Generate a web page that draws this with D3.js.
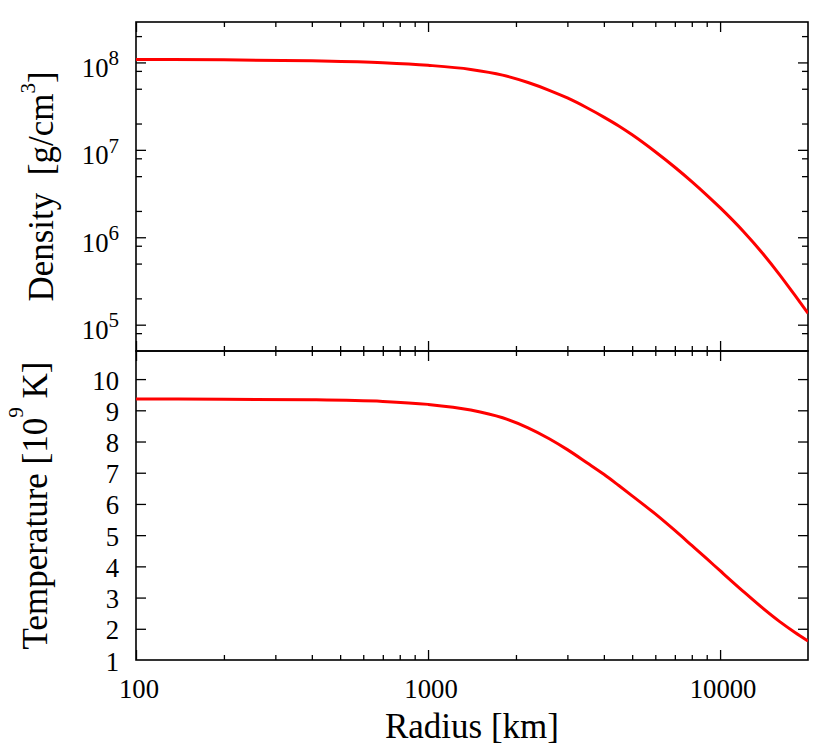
<!DOCTYPE html>
<html>
<head>
<meta charset="utf-8">
<script src="https://cdn.jsdelivr.net/npm/d3@7"></script>
<style>
  body { margin: 0; background: #fff; }
  svg text { font-family: "Liberation Serif", "Times New Roman", serif; fill: #000; }
</style>
</head>
<body>
<svg id="chart"></svg>
<script>
// values
const radius = [100, 200, 400, 700, 1000, 1400, 1800, 2200, 2600, 3000, 3500, 4000, 4500,
                5000, 6000, 7000, 8000, 9000, 10000, 12000, 14000, 16000, 18000, 20000]
const density = [1.081e8, 1.072e8, 1.042e8, 9.91e7, 9.27e7, 8.32e7, 7.16e7, 5.89e7, 4.8e7, 3.92e7,
                 3.03e7, 2.37e7, 1.875e7, 1.486e7, 9.51e6, 6.32e6, 4.33e6, 3.04e6, 2.18e6, 1.172e6,
                 6.52e5, 3.72e5, 2.19e5, 1.35e5]
const temperature = [9.36, 9.356, 9.338, 9.285, 9.19, 9.01, 8.76, 8.44, 8.09, 7.74, 7.32, 6.95,
                     6.59, 6.26, 5.68, 5.15, 4.67, 4.245, 3.86, 3.2, 2.66, 2.23, 1.89, 1.61]

const xTicks = [100, 1000, 10000]
const densityTicks = [1e5, 1e6, 1e7, 1e8]
const tempTicks = [1, 2, 3, 4, 5, 6, 7, 8, 9, 10]

const width = 830, height = 756
const left = 136, right = 808
const top1 = 22, mid = 351, bottom2 = 660
const serif = '"Liberation Serif", "Times New Roman", serif'

const svg = d3.select("#chart").attr("width", width).attr("height", height)

const x = d3.scaleLog().domain([100, 20000]).range([left, right])
const yDen = d3.scaleLog().domain([5e4, 2.9e8]).range([mid, top1])
const yTemp = d3.scaleLinear().domain([1, 10.9]).range([bottom2, mid])

// minor tick positions
var xMinor = []
for (var e = 100; e < 20000; e *= 10) {
    for (var m = 2; m <= 9; m++) if (m * e < 20000) xMinor.push(m * e)
}
var denMinor = []
for (var e = 1e4; e <= 1e8; e *= 10) {
    [2, 5, 8].forEach(m => { if (m * e > 5e4 && m * e < 2.9e8) denMinor.push(m * e) })
}

function ticks(axis, values, size, tx, ty) {
    const g = svg.append("g")
        .attr("transform", `translate(${tx},${ty})`)
        .call(axis.tickValues(values).tickSizeInner(-size).tickSizeOuter(0).tickFormat(""))
    g.select(".domain").remove()
    g.selectAll("line").attr("stroke", "#000").attr("stroke-width", 1.3)
}

// x ticks: top edge, separator (both sides), bottom edge
ticks(d3.axisTop(x), xTicks, 10, 0, top1)
ticks(d3.axisTop(x), xMinor, 5, 0, top1)
ticks(d3.axisBottom(x), xTicks, 10, 0, mid)
ticks(d3.axisBottom(x), xMinor, 5, 0, mid)
ticks(d3.axisTop(x), xTicks, 10, 0, mid)
ticks(d3.axisTop(x), xMinor, 5, 0, mid)
ticks(d3.axisBottom(x), xTicks, 10, 0, bottom2)
ticks(d3.axisBottom(x), xMinor, 5, 0, bottom2)

// y ticks
ticks(d3.axisLeft(yDen), densityTicks, 10, left, 0)
ticks(d3.axisLeft(yDen), denMinor, 6, left, 0)
ticks(d3.axisRight(yDen), densityTicks, 10, right, 0)
ticks(d3.axisRight(yDen), denMinor, 6, right, 0)
ticks(d3.axisLeft(yTemp), tempTicks.slice(1), 10, left, 0)
ticks(d3.axisRight(yTemp), tempTicks.slice(1), 10, right, 0)

// frames
svg.append("rect").attr("x", left).attr("y", top1).attr("width", right - left).attr("height", mid - top1)
    .attr("fill", "none").attr("stroke", "#000").attr("stroke-width", 1.6)
svg.append("rect").attr("x", left).attr("y", mid).attr("width", right - left).attr("height", bottom2 - mid)
    .attr("fill", "none").attr("stroke", "#000").attr("stroke-width", 1.6)

// curves
const clip = svg.append("clipPath").attr("id", "clip")
clip.append("rect").attr("x", left).attr("y", top1).attr("width", right - left).attr("height", bottom2 - top1)

const rows = radius.map((r, i) => ({ r: r, d: density[i], t: temperature[i] }))

svg.append("path")
    .datum(rows)
    .attr("clip-path", "url(#clip)")
    .attr("fill", "none")
    .attr("stroke", "#ff0000")
    .attr("stroke-width", 3)
    .attr("d", d3.line().curve(d3.curveMonotoneX).x(d => x(d.r)).y(d => yDen(d.d)))

svg.append("path")
    .datum(rows)
    .attr("clip-path", "url(#clip)")
    .attr("fill", "none")
    .attr("stroke", "#ff0000")
    .attr("stroke-width", 3)
    .attr("d", d3.line().curve(d3.curveMonotoneX).x(d => x(d.r)).y(d => yTemp(d.t)))

// tick labels
densityTicks.forEach(v => {
    const t = svg.append("text")
        .attr("x", 119)
        .attr("y", yDen(v) + 14.4)
        .attr("text-anchor", "end")
        .attr("font-family", serif)
        .style("font-size", "26.7px")
    t.append("tspan").text("10")
    t.append("tspan").attr("dy", -11.7).style("font-size", "21px").text(Math.round(Math.log10(v)))
})

tempTicks.forEach(v => {
    svg.append("text")
        .attr("x", 119)
        .attr("y", yTemp(v) + 10.5)
        .attr("text-anchor", "end")
        .attr("font-family", serif)
        .style("font-size", "26.7px")
        .text(v)
})

xTicks.forEach(v => {
    svg.append("text")
        .attr("x", x(v) + 3)
        .attr("y", 698)
        .attr("text-anchor", "middle")
        .attr("font-family", serif)
        .style("font-size", "26.7px")
        .text(v)
})

// axis titles
svg.append("text")
    .attr("x", (left + right) / 2)
    .attr("y", 738)
    .attr("text-anchor", "middle")
    .attr("font-family", serif)
    .style("font-size", "35px")
    .text("Radius [km]")

const dt = svg.append("text")
    .attr("transform", `translate(53,${(top1 + mid) / 2}) rotate(-90)`)
    .attr("text-anchor", "middle")
    .attr("font-family", serif)
    .style("font-size", "35px")
    .style("white-space", "pre")
dt.append("tspan").text("Density  [g/cm")
dt.append("tspan").attr("dy", -18).style("font-size", "21px").text("3")
dt.append("tspan").attr("dy", 18).text("]")

const tt = svg.append("text")
    .attr("transform", `translate(46.7,${(mid + bottom2) / 2}) rotate(-90)`)
    .attr("text-anchor", "middle")
    .attr("font-family", serif)
    .style("font-size", "35px")
    .style("white-space", "pre")
tt.append("tspan").text("Temperature [10")
tt.append("tspan").attr("dy", -24).style("font-size", "21px").text("9")
tt.append("tspan").attr("dy", 24).text(" K]")
</script>
</body>
</html>
